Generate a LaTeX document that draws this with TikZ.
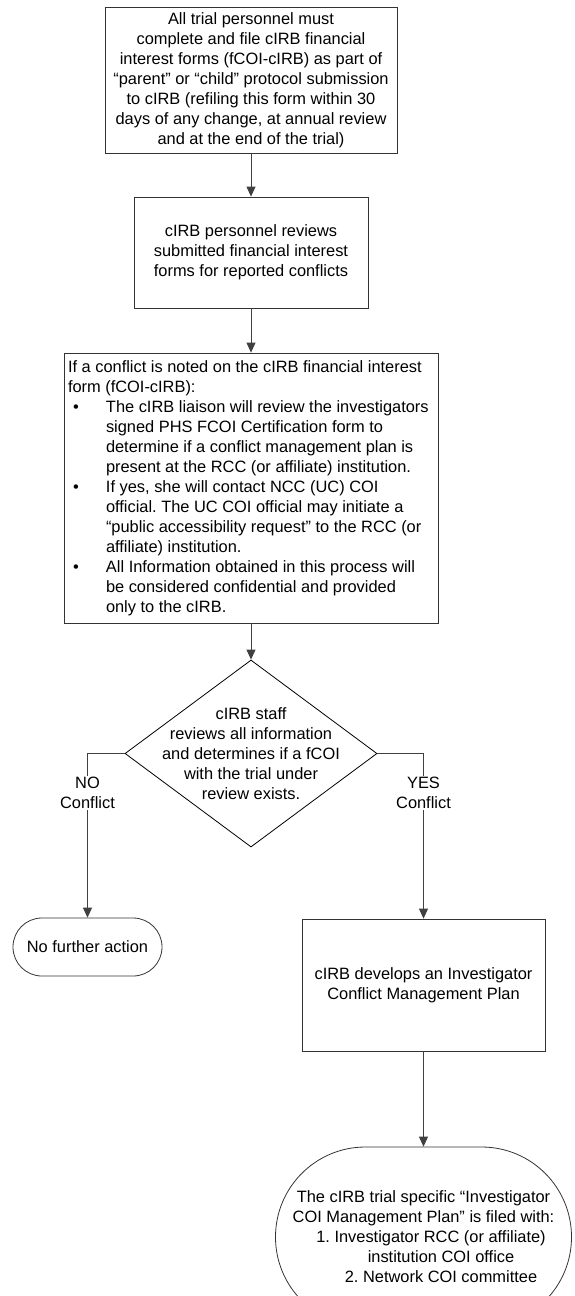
\documentclass[tikz,border=0pt]{standalone}
\usepackage{fontspec}
\setmainfont{Liberation Sans}
\usetikzlibrary{shapes.geometric,arrows.meta}
\newcommand\bulitem{\makebox[38pt][l]{\hspace{5pt}•}}
\newcommand\contind{\hspace*{38pt}}
\begin{document}
\begin{tikzpicture}[x=1pt,y=-1pt,
  txt/.style={font=\fontsize{16.4}{20}\selectfont\frenchspacing, align=center},
  boxnode/.style={txt, draw=black!80, line width=0.8pt, rectangle, inner sep=3pt},
  arr/.style={draw=black!75, line width=0.8pt, -{Triangle[width=9pt,length=10pt]}},
  lbl/.style={txt, fill=white, inner sep=1pt}]
\useasboundingbox (0,0) rectangle (574,1296);

\node[boxnode, minimum width=292pt, minimum height=146pt] (b1) at (251,80)
  {All trial personnel must\\complete and file cIRB financial\\interest forms (fCOI-cIRB) as part of\\“parent” or “child” protocol submission\\to cIRB (refiling this form within 30\\days of any change, at annual review\\and at the end of the trial)};

\node[boxnode, minimum width=234pt, minimum height=111pt] (b2) at (251,252.5)
  {cIRB personnel reviews\\submitted financial interest\\forms for reported conflicts};

\node[boxnode, inner xsep=4pt, minimum width=374pt, minimum height=270pt] (b3) at (251,488)
  {\makebox[366pt][l]{\begin{tabular}{@{}l@{}}
   If a conflict is noted on the cIRB financial interest\\
   form (fCOI-cIRB):\\
   \bulitem The cIRB liaison will review the investigators\\
   \contind signed PHS FCOI Certification form to\\
   \contind determine if a conflict management plan is\\
   \contind present at the RCC (or affiliate) institution.\\
   \bulitem If yes, she will contact NCC (UC) COI\\
   \contind official. The UC COI official may initiate a\\
   \contind “public accessibility request” to the RCC (or\\
   \contind affiliate) institution.\\
   \bulitem All Information obtained in this process will\\
   \contind be considered confidential and provided\\
   \contind only to the cIRB.
   \end{tabular}}};

\node[diamond, draw=black, line width=0.8pt, minimum width=252pt, minimum height=187pt, inner sep=0pt] (d) at (251,753.5) {};
\node[txt] (dt) at (d.center)
  {cIRB staff\\reviews all information\\and determines if a fCOI\\with the trial under\\review exists.};

\node[boxnode, rounded corners=28.9pt, minimum width=149pt, minimum height=58pt] (nfa) at (87.5,947) {No further action};

\node[boxnode, minimum width=243pt, minimum height=132pt] (b4) at (423.5,985)
  {cIRB develops an Investigator\\Conflict Management Plan};

\node[boxnode, rounded corners=89.9pt, minimum width=296pt, minimum height=180pt] (term) at (423.5,1237)
  {The cIRB trial specific “Investigator\\COI Management Plan” is filed with:\\\hspace*{15pt}1. Investigator RCC (or affiliate)\\\hspace*{35pt}institution COI office\\\hspace*{35pt}2. Network COI committee};

\draw[arr] (b1.south) -- (b2.north);
\draw[arr] (b2.south) -- (b3.north);
\draw[arr] (b3.south) -- (d.north);
\draw[arr] (d.west) -| node[lbl, pos=0.62] (nolbl) {NO\\Conflict} (nfa.north);
\draw[arr] (d.east) -| node[lbl, pos=0.62] (yeslbl) {YES\\Conflict} (b4.north);
\draw[arr] (b4.south) -- (term.north);
\end{tikzpicture}
\end{document}
